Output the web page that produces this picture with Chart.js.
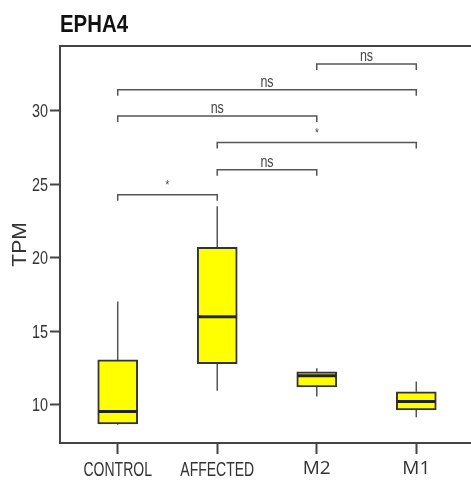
<!DOCTYPE html>
<html>
<head>
<meta charset="utf-8">
<script src="https://cdn.jsdelivr.net/npm/chart.js@4.4.0/dist/chart.umd.min.js"></script>
<style>
  html, body { margin: 0; padding: 0; background: #fff; overflow: hidden; }
  #wrap { width: 480px; height: 486px; }
</style>
</head>
<body>
<div id="wrap"><canvas id="chart" width="480" height="486"></canvas></div>
<script>
// box plot values (TPM)
const categories = ['CONTROL', 'AFFECTED', 'M2', 'M1'];
const whiskerLow = [8.65, 10.97, 10.57, 9.16];
const q1 = [8.71, 12.8, 11.23, 9.66];
const median = [9.55, 16.0, 11.98, 10.23];
const q3 = [13.06, 20.72, 12.25, 10.89];
const whiskerHigh = [17.03, 23.52, 12.5, 11.6];

const yTicks = [10, 15, 20, 25, 30];

// significance brackets (category index from / to, height in TPM)
const sigFrom = [2, 0, 0, 1, 1, 0];
const sigTo = [3, 3, 2, 3, 2, 1];
const sigY = [33.2, 31.45, 29.65, 27.85, 26.0, 24.3];
const sigLabel = ['ns', 'ns', 'ns', '*', 'ns', '*'];

const SANS = '"Liberation Sans", Arial, sans-serif';

// no narrow font installed, so squeeze the text horizontally
function narrowText(ctx, text, x, y, sx) {
  ctx.save();
  ctx.translate(x, y);
  ctx.scale(sx, 1);
  ctx.fillText(text, 0, 0);
  ctx.restore();
}

const boxExtras = {
  id: 'boxExtras',
  beforeDatasetsDraw(chart) {
    const { ctx, scales: { x, y } } = chart;
    ctx.save();
    ctx.strokeStyle = '#555';
    ctx.lineWidth = 1.5;
    categories.forEach((c, i) => {
      const px = x.getPixelForValue(i);
      ctx.beginPath();
      ctx.moveTo(px, y.getPixelForValue(whiskerHigh[i]));
      ctx.lineTo(px, y.getPixelForValue(q3[i]));
      ctx.moveTo(px, y.getPixelForValue(q1[i]));
      ctx.lineTo(px, y.getPixelForValue(whiskerLow[i]));
      ctx.stroke();
    });
    ctx.restore();
  },
  afterDatasetsDraw(chart) {
    const { ctx, chartArea, scales: { x, y } } = chart;
    ctx.save();
    // medians
    ctx.strokeStyle = '#222';
    ctx.lineWidth = 3;
    categories.forEach((c, i) => {
      const px = x.getPixelForValue(i);
      const py = y.getPixelForValue(median[i]);
      ctx.beginPath();
      ctx.moveTo(px - 19, py);
      ctx.lineTo(px + 19, py);
      ctx.stroke();
    });

    // brackets
    ctx.strokeStyle = '#555';
    ctx.lineWidth = 1.5;
    ctx.fillStyle = '#444';
    ctx.textAlign = 'center';
    ctx.textBaseline = 'alphabetic';
    sigFrom.forEach((f, k) => {
      const x1 = x.getPixelForValue(f);
      const x2 = x.getPixelForValue(sigTo[k]);
      const py = y.getPixelForValue(sigY[k]);
      ctx.beginPath();
      ctx.moveTo(x1, py + 6);
      ctx.lineTo(x1, py);
      ctx.lineTo(x2, py);
      ctx.lineTo(x2, py + 6);
      ctx.stroke();
      if (sigLabel[k] === '*') {
        ctx.font = '12px ' + SANS;
        narrowText(ctx, '*', (x1 + x2) / 2, py - 6, 0.8);
      } else {
        ctx.font = '16px ' + SANS;
        narrowText(ctx, sigLabel[k], (x1 + x2) / 2, py - 3, 0.78);
      }
    });

    // top border of the panel
    ctx.strokeStyle = '#444';
    ctx.lineWidth = 2;
    ctx.beginPath();
    ctx.moveTo(chartArea.left, chartArea.top);
    ctx.lineTo(chart.width, chartArea.top);
    ctx.stroke();

    // y tick labels
    ctx.fillStyle = '#333';
    ctx.textAlign = 'right';
    ctx.font = '18px ' + SANS;
    yTicks.forEach(v => {
      narrowText(ctx, String(v), 48, y.getPixelForValue(v) + 6.5, 0.8);
    });

    // x tick labels
    ctx.textAlign = 'center';
    categories.forEach((c, i) => {
      const px = x.getPixelForValue(i);
      if (i < 2) {
        ctx.font = '20px ' + SANS;
        narrowText(ctx, c, px, 476, 0.7);
      } else {
        ctx.font = '19px "Open Sans", "Noto Sans", sans-serif';
        ctx.fillText(c, px, 474);
      }
    });

    // title
    ctx.fillStyle = '#111';
    ctx.textAlign = 'left';
    ctx.font = 'bold 24px ' + SANS;
    narrowText(ctx, 'EPHA4', chartArea.left, 32, 0.85);
    ctx.restore();
  }
};

new Chart(document.getElementById('chart'), {
  type: 'bar',
  data: {
    datasets: [{
      data: categories.map((c, i) => ({ x: i, y: [q1[i], q3[i]] })),
      backgroundColor: '#ffff00',
      borderColor: '#333',
      borderWidth: 2,
      borderSkipped: false,
      barThickness: 40
    }]
  },
  options: {
    responsive: false,
    animation: false,
    layout: { padding: { top: 46, right: 6, left: 0, bottom: 0 } },
    plugins: { legend: { display: false }, tooltip: { enabled: false } },
    scales: {
      x: {
        type: 'linear',
        offset: false,
        min: -0.58,
        max: 3.58,
        afterBuildTicks: s => { s.ticks = categories.map((c, i) => ({ value: i })); },
        afterFit: s => { s.height = 43; },
        grid: { offset: false, drawOnChartArea: false, tickLength: 11, tickWidth: 2, color: '#444' },
        border: { color: '#444', width: 2 },
        ticks: { display: false }
      },
      y: {
        min: 7.41,
        max: 34.42,
        afterBuildTicks: s => { s.ticks = yTicks.map(v => ({ value: v })); },
        afterFit: s => { s.width = 60; },
        grid: { drawOnChartArea: false, tickLength: 10, tickWidth: 2, color: '#444' },
        border: { color: '#444', width: 2 },
        ticks: { display: false },
        title: {
          display: true,
          text: 'TPM',
          color: '#333',
          font: { family: SANS, size: 21, lineHeight: 1 },
          padding: { top: 10, bottom: 0 }
        }
      }
    }
  },
  plugins: [boxExtras]
});
</script>
</body>
</html>
